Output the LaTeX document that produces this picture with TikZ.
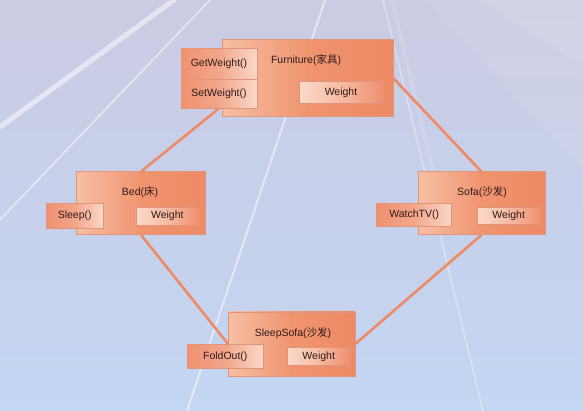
\documentclass[tikz,border=0pt]{standalone}
\usepackage{fontspec}
\setmainfont{Liberation Sans}
\newfontfamily\cjk{Noto Sans CJK SC}
\usepackage{tikz}

\definecolor{bgtop}{HTML}{CBCBE3}
\definecolor{bgbot}{HTML}{C3D6F2}
\definecolor{classlight}{HTML}{F7BFA4}
\definecolor{classmid}{HTML}{F0946F}
\definecolor{classdark}{HTML}{EE8A66}
\definecolor{methdark}{HTML}{EF9170}
\definecolor{methmid}{HTML}{F3A68A}
\definecolor{methlight}{HTML}{FAD8C9}
\definecolor{attrlight}{HTML}{FADACB}
\definecolor{attrmid}{HTML}{F6BBA2}
\definecolor{attrdark}{HTML}{EF9070}
\definecolor{boxline}{HTML}{E0957A}
\definecolor{linkcol}{HTML}{EE8A66}
\definecolor{txtcol}{HTML}{2E1C1C}

\begin{document}
\begin{tikzpicture}[
    x=1pt, y=-1pt,
    classbox/.style={draw=boxline, line width=0.6pt, inner sep=0pt,
      left color=classlight, right color=classdark, middle color=classmid},
    method/.style={draw=boxline, line width=0.6pt, inner sep=0pt,
      left color=methdark, right color=methlight, middle color=methmid,
      font=\fontsize{10.5}{12}\selectfont, text=txtcol},
    attrib/.style={draw=boxline, line width=0.6pt, inner sep=0pt,
      left color=attrlight, right color=attrdark, middle color=attrmid,
      font=\fontsize{10.5}{12}\selectfont, text=txtcol},
    title/.style={inner sep=0pt, font=\fontsize{10.5}{12}\selectfont, text=txtcol},
    link/.style={draw=linkcol, line width=2.6pt},
    ray/.style={draw=white, line cap=round}
  ]
  % background and light rays
  \useasboundingbox[top color=bgtop, bottom color=bgbot] (0,0) rectangle (583,411);
  \fill[white, opacity=0.14] (480,0) -- (583,0) -- (583,65) -- cycle;
  \fill[white, opacity=0.07] (425,0) -- (480,0) -- (583,65) -- (583,170) -- cycle;
  \draw[ray, line width=5pt, opacity=0.5] (0,127) -- (174,0);
  \draw[ray, line width=1.5pt, opacity=0.55] (-5,225) -- (210,0);
  \draw[ray, line width=2pt, opacity=0.5] (325,0) -- (187,411);
  \draw[ray, line width=1.5pt, opacity=0.35] (383,0) -- (483,411);
  \draw[ray, line width=4pt, opacity=0.12] (392,0) -- (440,200);

  % classes
  \node[classbox, minimum width=171pt, minimum height=77pt] (furn) at (307.5,78.2) {};
  \node[classbox, minimum width=129pt, minimum height=63pt] (bed) at (141.2,203.3) {};
  \node[classbox, minimum width=127pt, minimum height=63pt] (sofa) at (481.3,203.3) {};
  \node[classbox, minimum width=127pt, minimum height=64pt] (sleepsofa) at (291.7,343.8) {};

  \node[title] (furntitle) at (306,60) {Furniture({\cjk 家具})};
  \node[title] (bedtitle) at (140,191.7) {Bed({\cjk 床})};
  \node[title] (sofatitle) at (482,192) {Sofa({\cjk 沙发})};
  \node[title] (sleepsofatitle) at (293,333) {SleepSofa({\cjk 沙发})};

  % methods
  \node[method, minimum width=76pt, minimum height=30pt] (getw) at (219,63.4) {GetWeight()};
  \node[method, minimum width=76pt, minimum height=29pt] (setw) at (219,93.5) {SetWeight()};
  \node[method, minimum width=57pt, minimum height=25pt] (sleep) at (74.7,215.8) {Sleep()};
  \node[method, minimum width=75pt, minimum height=23pt] (watchtv) at (414.2,214.7) {WatchTV()};
  \node[method, minimum width=76pt, minimum height=24pt] (foldout) at (225.3,356.3) {FoldOut()};

  % attributes
  \node[attrib, minimum width=84pt, minimum height=21.6pt] (furnweight) at (341,92.5) {Weight};
  \node[attrib, minimum width=63pt, minimum height=17.7pt] (bedweight) at (167.3,216.2) {Weight};
  \node[attrib, minimum width=63pt, minimum height=17pt] (sofaweight) at (508.7,215.8) {Weight};
  \node[attrib, minimum width=63pt, minimum height=18pt] (sleepsofaweight) at (318.7,356.7) {Weight};

  % inheritance diamond
  \draw[link] (setw.south) -- (bed.north);
  \draw[link] (furn.east) -- (sofa.north);
  \draw[link] (bed.south) -- (sleepsofa.west);
  \draw[link] (sofa.south) -- (sleepsofa.east);
\end{tikzpicture}
\end{document}
